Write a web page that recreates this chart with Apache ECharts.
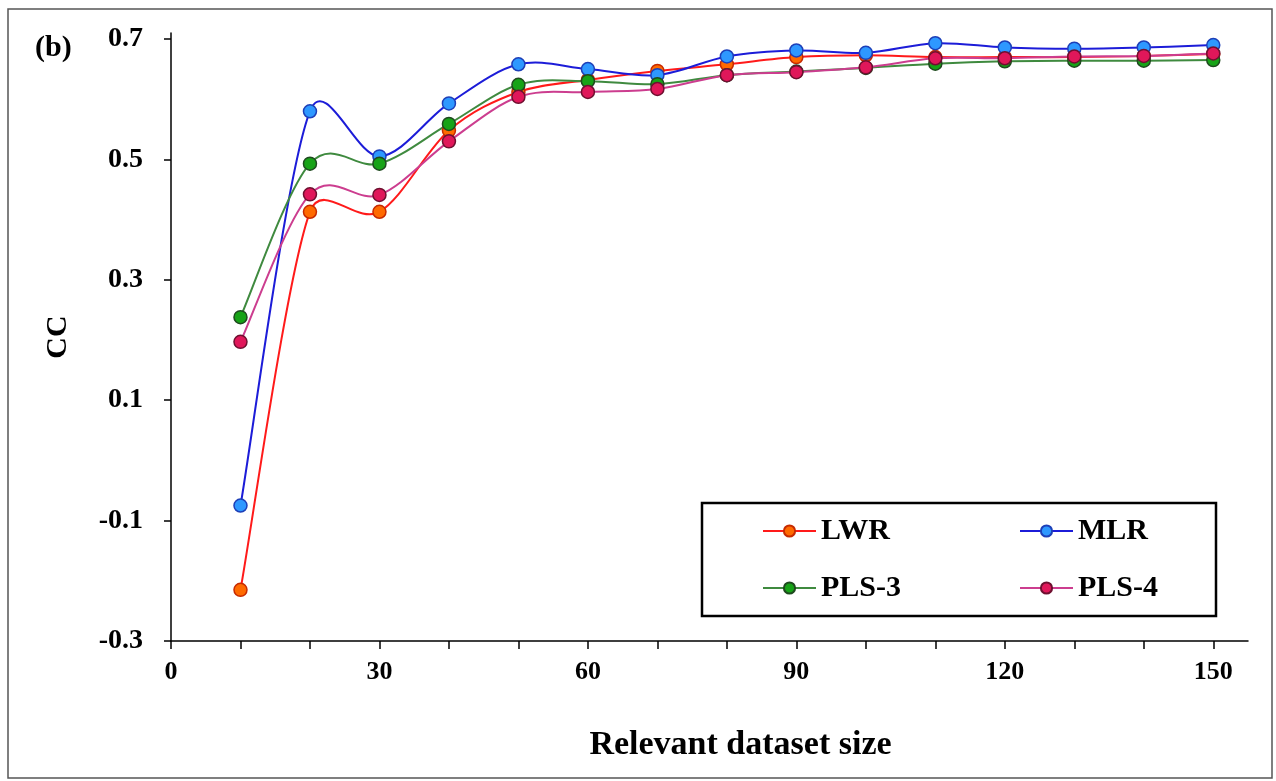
<!DOCTYPE html>
<html>
<head>
<meta charset="utf-8">
<script src="https://cdn.jsdelivr.net/npm/echarts@6/dist/echarts.min.js"></script>
<style>
  html, body { margin: 0; padding: 0; background: #ffffff; }
  #chart { width: 1276px; height: 781px; }
</style>
</head>
<body>
<div id="chart"></div>
<script>
// Relevant dataset sizes (x) and correlation coefficients (CC) per model
const sizes = [10, 20, 30, 40, 50, 60, 70, 80, 90, 100, 110, 120, 130, 140, 150];
const lwr  = [-0.215, 0.413, 0.413, 0.548, 0.612, 0.632, 0.647, 0.658, 0.670, 0.673, 0.670, 0.670, 0.670, 0.672, 0.675];
const mlr  = [-0.075, 0.580, 0.505, 0.593, 0.658, 0.650, 0.640, 0.671, 0.681, 0.677, 0.693, 0.686, 0.684, 0.686, 0.690];
const pls3 = [0.238, 0.493, 0.493, 0.559, 0.624, 0.630, 0.625, 0.640, 0.646, 0.652, 0.659, 0.663, 0.664, 0.664, 0.665];
const pls4 = [0.197, 0.442, 0.441, 0.530, 0.604, 0.612, 0.617, 0.640, 0.645, 0.653, 0.668, 0.668, 0.671, 0.672, 0.676];

const xTickLabels = [0, 30, 60, 90, 120, 150];
const xTickMarks = [0, 10, 20, 30, 40, 50, 60, 70, 80, 90, 100, 110, 120, 130, 140, 150];
const yTickLabels = [-0.3, -0.1, 0.1, 0.3, 0.5, 0.7];

const FONT = '"Liberation Serif", "DejaVu Serif", serif';

const models = [
  { name: 'LWR',   ys: lwr,  line: '#ff1a1a', fill: '#ff6a00', border: '#c62a00' },
  { name: 'MLR',   ys: mlr,  line: '#1c1cd8', fill: '#2e98ff', border: '#1d3fb8' },
  { name: 'PLS-3', ys: pls3, line: '#3f8a3f', fill: '#17a317', border: '#1f4a1f' },
  { name: 'PLS-4', ys: pls4, line: '#cc3d8f', fill: '#e0175a', border: '#6e1030' }
];

function pairs(ys) {
  return sizes.map((x, i) => [x, ys[i]]);
}

// Smoothed connecting line: one cubic bezier per segment. The tangent at a
// point follows its two neighbours (Catmull-Rom, 1/6), and each control arm
// is limited to half the length of the segment it sits on.
const TENSION = 1 / 6;
const ARM_LIMIT = 0.5;
function dist(a, b) {
  return Math.hypot(b[0] - a[0], b[1] - a[1]);
}
function controlPoint(prev, cur, next, target) {
  let ax = (next[0] - prev[0]) * TENSION;
  let ay = (next[1] - prev[1]) * TENSION;
  const len = Math.hypot(ax, ay);
  const maxLen = ARM_LIMIT * dist(cur, target);
  if (len > maxLen && len > 0) {
    ax *= maxLen / len;
    ay *= maxLen / len;
  }
  const sign = target === next ? 1 : -1;
  return [cur[0] + sign * ax, cur[1] + sign * ay];
}
function curveSeries(m) {
  return {
    type: 'custom',
    data: pairs(m.ys),
    encode: { x: 0, y: 1 },
    silent: true,
    z: 1,
    renderItem: function (params, api) {
      if (params.dataIndex !== 0) return null;
      const p = m.ys.map((y, i) => api.coord([sizes[i], y]));
      const n = p.length;
      const children = [];
      for (let i = 0; i < n - 1; i++) {
        const p0 = p[Math.max(i - 1, 0)];
        const p1 = p[i];
        const p2 = p[i + 1];
        const p3 = p[Math.min(i + 2, n - 1)];
        const c1 = controlPoint(p0, p1, p2, p2);
        const c2 = controlPoint(p1, p2, p3, p1);
        children.push({
          type: 'bezierCurve',
          shape: {
            x1: p1[0], y1: p1[1],
            cpx1: c1[0], cpy1: c1[1],
            cpx2: c2[0], cpy2: c2[1],
            x2: p2[0], y2: p2[1]
          },
          style: { stroke: m.line, lineWidth: 2, fill: null }
        });
      }
      return { type: 'group', children: children };
    }
  };
}

// Markers (and legend entries) for each model
function markerSeries(m) {
  return {
    name: m.name,
    type: 'line',
    data: pairs(m.ys),
    symbol: 'circle',
    symbolSize: 13,
    z: 3,
    lineStyle: { color: m.line, width: 2, opacity: 0 },
    itemStyle: { color: m.fill, borderColor: m.border, borderWidth: 1.5 },
    emphasis: { disabled: true }
  };
}

const legendText = { fontFamily: FONT, fontWeight: 'bold', fontSize: 30, color: '#000' };
function legendBlock(names, left) {
  return {
    data: names,
    orient: 'vertical',
    left: left,
    top: 516,
    padding: 0,
    itemGap: 27,
    itemWidth: 53,
    itemHeight: 14,
    lineStyle: { opacity: 1, width: 2 },
    textStyle: legendText
  };
}

const chart = echarts.init(document.getElementById('chart'), null, { renderer: 'canvas' });
chart.setOption({
  animation: false,
  backgroundColor: '#ffffff',
  title: {
    text: '(b)',
    left: 30,
    top: 28,
    textStyle: { fontFamily: FONT, fontWeight: 'bold', fontSize: 30, color: '#000' }
  },
  grid: { left: 171, right: 28, top: 33, bottom: 140, containLabel: false },
  xAxis: {
    type: 'value',
    min: 0,
    max: 155,
    name: 'Relevant dataset size',
    nameLocation: 'middle',
    nameGap: 87,
    nameTextStyle: { fontFamily: FONT, fontWeight: 'bold', fontSize: 34, color: '#000', padding: [0, 0, 0, 62] },
    axisLine: { onZero: false, lineStyle: { color: '#000', width: 1.5 } },
    axisTick: { show: true, inside: false, length: 8, customValues: xTickMarks, lineStyle: { color: '#000', width: 1.5 } },
    axisLabel: { customValues: xTickLabels, margin: 18, fontFamily: FONT, fontWeight: 'bold', fontSize: 26, color: '#000' },
    splitLine: { show: false }
  },
  yAxis: {
    type: 'value',
    min: -0.3,
    max: 0.71,
    name: 'CC',
    nameLocation: 'middle',
    nameGap: 98,
    nameTextStyle: { fontFamily: FONT, fontWeight: 'bold', fontSize: 30, color: '#000' },
    axisLine: { show: true, onZero: false, lineStyle: { color: '#000', width: 1.5 } },
    axisTick: { show: true, inside: false, length: 7, customValues: yTickLabels, lineStyle: { color: '#000', width: 1.5 } },
    axisLabel: {
      customValues: yTickLabels,
      margin: 28,
      fontFamily: FONT, fontWeight: 'bold', fontSize: 28, color: '#000',
      formatter: v => v.toFixed(1)
    },
    splitLine: { show: false }
  },
  legend: [
    legendBlock(['LWR', 'PLS-3'], 762),
    legendBlock(['MLR', 'PLS-4'], 1019)
  ],
  graphic: [
    {
      // legend frame
      type: 'rect',
      shape: { x: 702, y: 503, width: 514, height: 113 },
      style: { fill: 'none', stroke: '#000', lineWidth: 2.5 },
      silent: true
    },
    {
      // outer figure frame
      type: 'rect',
      shape: { x: 8, y: 9, width: 1264, height: 769 },
      style: { fill: 'none', stroke: '#555', lineWidth: 1.5 },
      silent: true
    }
  ],
  series: models.map(curveSeries).concat(models.map(markerSeries))
});
</script>
</body>
</html>
